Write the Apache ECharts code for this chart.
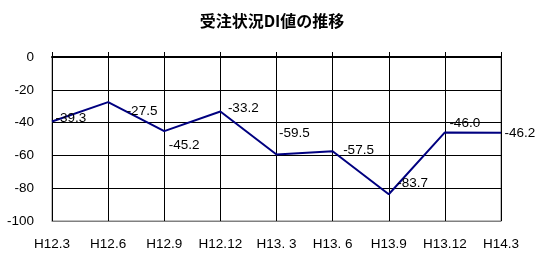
<!DOCTYPE html>
<html>
<head>
<meta charset="utf-8">
<script src="https://cdn.jsdelivr.net/npm/echarts@6/dist/echarts.min.js"></script>
<style>
html,body{margin:0;padding:0;background:#fff;}
#c{width:544px;height:261px;}
</style>
</head>
<body>
<div id="c"></div>
<script>
const titleText = '受注状況DI値の推移';
const categories = ['H12.3', 'H12.6', 'H12.9', 'H12.12', 'H13. 3', 'H13. 6', 'H13.9', 'H13.12', 'H14.3'];
const diValues = [-39.3, -27.5, -45.2, -33.2, -59.5, -57.5, -83.7, -46.0, -46.2];
const yMin = -100, yMax = 0, yStep = 20;

// label nudges (layout only)
const labelNudges = [[3,-3],[18,9],[4,14],[7,-3],[2,-21],[10,-1],[8,-11],[4,-9],[3,1]];

const font = '"Liberation Sans", Arial, sans-serif';
const chart = echarts.init(document.getElementById('c'), null, {renderer: 'canvas'});
chart.setOption({
  animation: false,
  backgroundColor: '#fff',
  title: {
    text: titleText, left: 'center', top: 13, padding: 0,
    textStyle: {fontFamily: '"Noto Sans CJK JP", sans-serif', fontSize: 16, fontWeight: 'bold', color: '#000'}
  },
  grid: {left: 52, right: 43, top: 57, bottom: 40, show: true, borderColor: '#808080', borderWidth: 1, backgroundColor: 'transparent'},
  xAxis: [{
    type: 'category', data: categories, boundaryGap: false, position: 'bottom',
    axisLine: {onZero: false, lineStyle: {color: '#808080', width: 1}},
    axisTick: {show: false},
    axisLabel: {interval: 0, color: '#000', fontFamily: font, fontSize: 13.5, margin: 16},
    splitLine: {show: true, interval: 0, lineStyle: {color: '#000', width: 1}}
  }, {
    type: 'category', data: categories, boundaryGap: false, position: 'top',
    axisLine: {onZero: false, lineStyle: {color: '#000', width: 2}},
    axisTick: {show: true, interval: 0, inside: false, length: 5, lineStyle: {color: '#000', width: 1}},
    axisLabel: {show: false, interval: 0},
    splitLine: {show: false}
  }],
  yAxis: {
    type: 'value', min: yMin, max: yMax, interval: yStep,
    axisLine: {show: true, lineStyle: {color: '#000', width: 1}},
    axisTick: {show: false},
    axisLabel: {color: '#000', fontFamily: font, fontSize: 13.5, margin: 18},
    splitLine: {show: true, lineStyle: {color: '#000', width: 1}}
  },
  series: [{
    type: 'line', xAxisIndex: 0,
    data: diValues,
    showSymbol: true, symbol: 'circle', symbolSize: 1,
    lineStyle: {color: '#000080', width: 2},
    itemStyle: {color: 'transparent', borderWidth: 0},
    labelLayout: p => ({dx: labelNudges[p.dataIndex][0], dy: labelNudges[p.dataIndex][1], hideOverlap: false}),
    label: {
      show: true, position: 'right', distance: 0,
      color: '#000', fontFamily: font, fontSize: 13.5,
      formatter: p => Number(p.value).toFixed(1)
    }
  }]
});
</script>
</body>
</html>
